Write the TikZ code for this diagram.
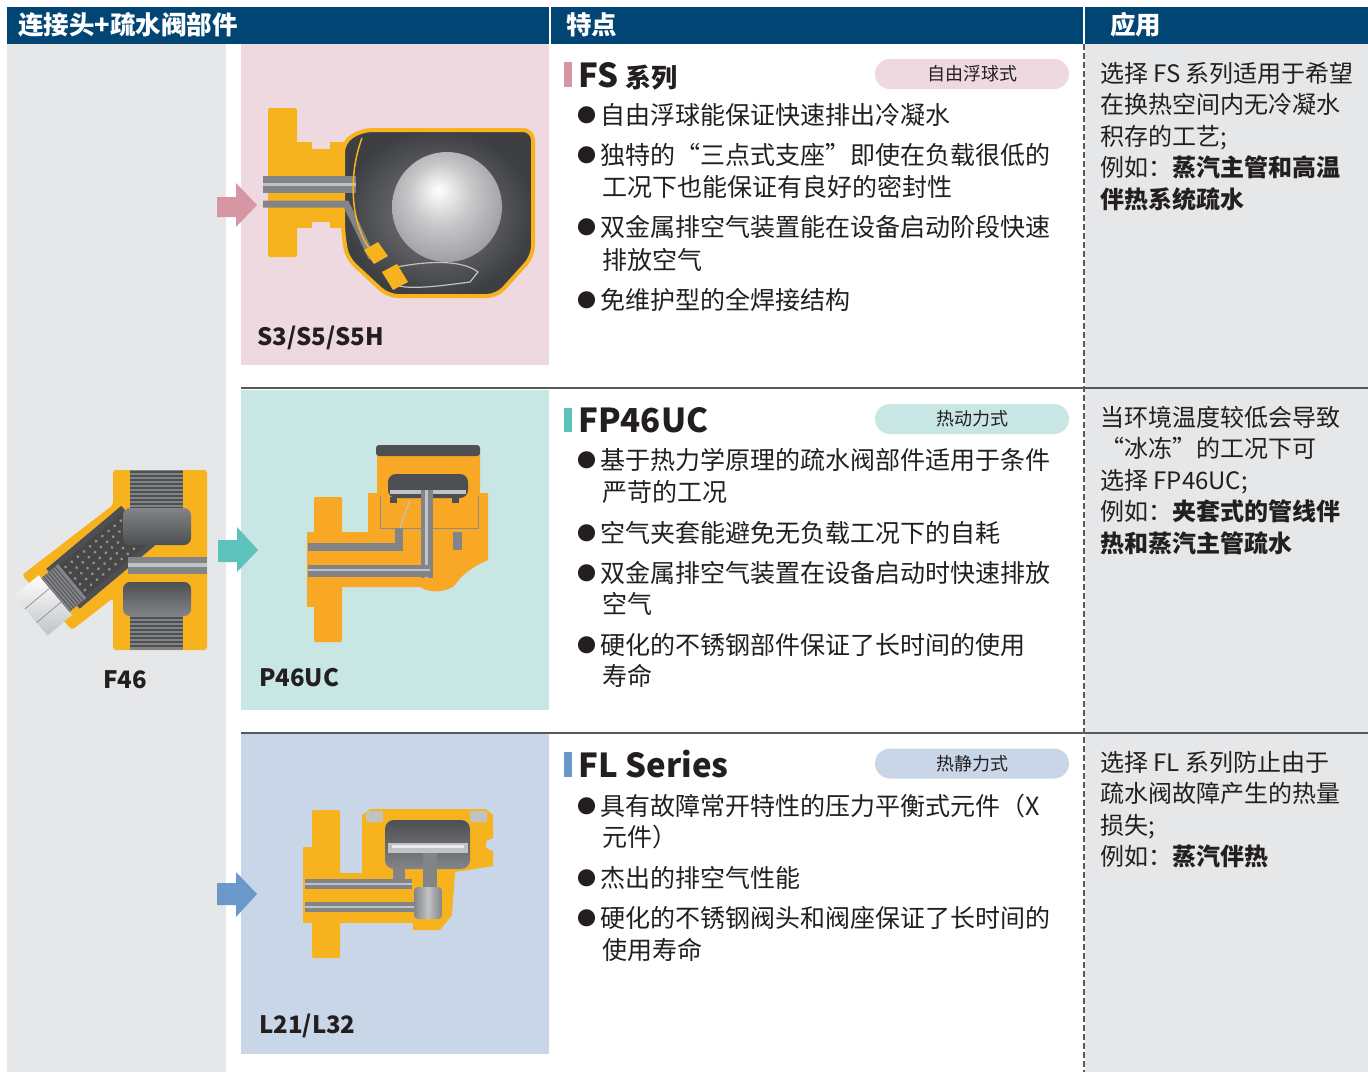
\documentclass[tikz,border=0pt]{standalone}
\usepackage{fontspec}
\setmainfont{Noto Sans CJK SC}
\definecolor{hdr}{RGB}{0,69,115}
\definecolor{graybg}{RGB}{230,231,232}
\definecolor{pinkbg}{RGB}{238,217,224}
\definecolor{tealbg}{RGB}{200,230,228}
\definecolor{bluebg}{RGB}{201,214,232}
\definecolor{pinkac}{RGB}{215,150,163}
\definecolor{tealac}{RGB}{92,194,186}
\definecolor{blueac}{RGB}{106,152,201}
\definecolor{txt}{RGB}{35,31,32}
\definecolor{sep}{RGB}{88,89,91}
\definecolor{yel}{RGB}{246,179,30}
\definecolor{org}{RGB}{248,168,36}
\definecolor{dgray}{RGB}{78,79,82}
\definecolor{mgray}{RGB}{130,132,135}
\definecolor{lgray}{RGB}{192,194,196}
\definecolor{ballmid}{RGB}{200,200,202}
\definecolor{balledge}{RGB}{128,128,130}
\pgfdeclareradialshading{myball}{\pgfpoint{-4bp}{8bp}}{color(0bp)=(white); color(14bp)=(ballmid); color(40bp)=(balledge); color(50bp)=(balledge)}
\newcommand\mybul{\raisebox{2pt}{\fontsize{19}{19}\selectfont ●}\hspace{4pt}}
\begin{document}
\begin{tikzpicture}[x=1pt,y=-1pt,
  hdrtext/.style={text=white,font=\fontsize{25.5}{25.5}\selectfont\bfseries,anchor=base west,inner sep=0},
  body/.style={text=txt,font=\fontsize{25}{25}\selectfont,anchor=base west,inner sep=0},
  apptext/.style={text=txt,font=\fontsize{24}{24}\selectfont,anchor=base west,inner sep=0},
  ttl/.style={text=txt,font=\fontsize{33}{33}\selectfont\bfseries,anchor=base west,inner sep=0},
  pill/.style={minimum width=194pt,minimum height=30pt,rounded corners=15pt,inner sep=0,text=txt,font=\fontsize{18}{18}\selectfont},
  lbl/.style={text=txt,font=\fontsize{24}{24}\selectfont\bfseries,anchor=base west,inner sep=0},
  sepline/.style={draw=sep,line width=1.6pt},
  dashsep/.style={draw=sep,line width=1.2pt,dash pattern=on 6pt off 3pt},
]
\useasboundingbox (0,0) rectangle (1368,1072);
\fill[white] (0,0) rectangle (1368,1072);
% header
\fill[hdr] (7,7) rectangle (1368,44);
\fill[white] (549,7) rectangle (551,44);
\fill[white] (1083,7) rectangle (1085,44);
\node[hdrtext] (h1) at (18,34.5) {连接头+疏水阀部件};
\node[hdrtext] (h2) at (566,34.5) {特点};
\node[hdrtext] (h3) at (1110,34.5) {应用};
% columns
\fill[graybg] (7,44) rectangle (226,1072);
\fill[graybg] (1085,44) rectangle (1368,1072);
\fill[pinkbg] (241,44) rectangle (549,365);
\fill[tealbg] (241,390) rectangle (549,710);
\fill[bluebg] (241,734) rectangle (549,1054);
\draw[sepline] (241,388) -- (1368,388);
\draw[sepline] (241,733) -- (1368,733);
\draw[dashsep] (1084,44) -- (1084,1072);

% ---------- F46 ----------
\fill[yel,rounded corners=3] (113,470) -- (207,470) -- (207,650) -- (113,650) -- (113,598) -- (72,630) -- (22,575) -- (113,505) -- cycle;
\begin{scope}[shift={(40,608)},rotate=40]
  \fill[dgray] (30,-26) rectangle (128,26);
  \fill[black!72] (40,-20) rectangle (124,20);
  \foreach \t in {46,54,...,118} \foreach \w in {-15,-7.5,...,15} \fill[gray!85] (\t,\w) circle (1.6);
  \fill[mgray] (18,-22) rectangle (42,22);
  \foreach \t in {20,23,...,40} \draw[dgray,line width=0.8] (\t,-22) -- (\t,22);
  \shade[top color=white, bottom color=lgray] (-12,-26) rectangle (20,26);
  \draw[mgray,line width=0.6] (-12,-9) -- (20,-9) (-12,9) -- (20,9);
\end{scope}
\fill[mgray] (130,470) rectangle (183,512);
\foreach \yy in {472,476,...,508} \draw[dgray,line width=1.2] (130,\yy) -- (183,\yy);
\fill[mgray] (130,612) rectangle (183,650);
\foreach \yy in {614,618,...,648} \draw[dgray,line width=1.2] (130,\yy) -- (183,\yy);
\shade[top color=mgray, bottom color=dgray, rounded corners=7] (123,508) rectangle (191,545);
\shade[top color=dgray, bottom color=mgray, rounded corners=7] (123,582) rectangle (191,616);
\fill[mgray] (128,557) rectangle (207,574);
\fill[lgray] (128,563) rectangle (207,567);
\node[lbl] (lf46) at (103,688) {F46};

% ---------- S3 ----------
\fill[yel,rounded corners=2] (268,108) rectangle (297,257);
\fill[yel] (292,142) rectangle (356,228);
\fill[pinkbg] (312,142) rectangle (330,149);
\fill[pinkbg] (312,222) rectangle (330,228);
\path[draw=yel,line width=4,inner color={rgb,255:red,128;green,129;blue,131},outer color={rgb,255:red,62;green,63;blue,66},rounded corners=10] (343,142) -- (362,130) -- (533,130) -- (533,256) -- (497,296) -- (388,296) -- (347,258) -- (343,232) -- cycle;
\fill[mgray] (263,176) rectangle (356,193);
\fill[lgray] (263,183) rectangle (356,186);
\draw[mgray,line width=7] (263,204) -- (346,204) -- (357,226) -- (372,258);
\draw[yel,line width=1.5] (362,138) .. controls (348,175) and (350,225) .. (372,252);
\shade[shading=myball] (447,207) circle (55);
\draw[lgray,line width=1.2] (392,268) .. controls (420,262) and (460,258) .. (478,272) -- (470,282) .. controls (440,286) and (410,290) .. (395,285);
\fill[yel] (364,250) -- (378,242) -- (388,256) -- (374,264) -- cycle;
\fill[yel] (382,272) -- (397,264) -- (408,282) -- (393,290) -- cycle;
\node[lbl] (ls3) at (257,345) {S3/S5/S5H};

% ---------- P46UC ----------
\fill[org,rounded corners=2] (314,497) rectangle (342,642);
\fill[org] (307,532) rectangle (342,607);
\fill[org] (340,532) -- (368,532) -- (368,493) -- (377,493) -- (377,452) -- (480,452) -- (480,493) -- (488,493) -- (488,560) .. controls (470,568) and (462,575) .. (455,585) .. controls (448,592) and (430,594) .. (420,587) -- (340,587) -- cycle;
\fill[dgray,rounded corners=3] (376,445) rectangle (480,456);
\draw[black!45,line width=0.8] (380,496) -- (380,528) -- (478,528) -- (478,496);
\fill[dgray,rounded corners=8] (388,474) rectangle (468,498);
\fill[lgray] (390,490) rectangle (466,494);
\fill[dgray] (390,497) rectangle (397,503);
\fill[dgray] (452,497) rectangle (459,503);
\fill[mgray] (421,490) rectangle (433,578);
\fill[lgray] (425,490) rectangle (428,578);
\fill[mgray] (308,543) rectangle (402,551);
\fill[mgray] (395,528) rectangle (403,551);
\fill[mgray] (308,565) rectangle (433,577);
\fill[lgray] (308,569) rectangle (430,571);
\draw[lgray,line width=1.2] (400,528) -- (410,500);
\fill[mgray] (453,532) rectangle (462,550);
\node[lbl] (lp46) at (259,686) {P46UC};

% ---------- L21 ----------
\fill[yel,rounded corners=2] (312,810) rectangle (340,958);
\fill[yel] (303,847) rectangle (340,923);
\fill[yel] (338,873) -- (362,873) -- (362,815) -- (370,809) -- (486,809) -- (493,815) -- (493,838) -- (486,841) -- (486,848) -- (493,851) -- (493,866) -- (455,872) -- (452,915) -- (440,930) -- (413,930) -- (413,923) -- (338,923) -- cycle;
\fill[lgray,rounded corners=2] (366,811) rectangle (383,822);
\fill[lgray,rounded corners=2] (470,811) rectangle (487,822);
\shade[top color=dgray, bottom color=mgray, rounded corners=9] (385,820) rectangle (470,869);
\fill[lgray] (388,843) rectangle (468,853);
\fill[white!85!gray] (392,845) rectangle (464,848);
\fill[mgray] (423,853) rectangle (437,893);
\shade[left color=mgray, right color=mgray, middle color=lgray, rounded corners=4] (414,887) rectangle (442,919);
\fill[mgray] (305,879) rectangle (412,889);
\fill[lgray] (305,883) rectangle (412,885);
\fill[mgray] (305,902) rectangle (414,912);
\fill[lgray] (305,906) rectangle (414,908);
\fill[mgray] (393,869) rectangle (405,881);
\node[lbl] (ll21) at (259,1033) {L21/L32};

% ---------- arrows ----------
\fill[pinkac] (217,197) -- (236,197) -- (236,183) -- (257,205) -- (236,227) -- (236,217) -- (217,217) -- cycle;
\fill[tealac] (218,540) -- (237,540) -- (237,527) -- (258,550) -- (237,572) -- (237,562) -- (218,562) -- cycle;
\fill[blueac] (217,883) -- (236,883) -- (236,872) -- (257,894) -- (236,917) -- (236,905) -- (217,905) -- cycle;

% ---------- row 1 text ----------
\fill[pinkac] (564,62) rectangle (572,87);
\node[ttl] (t1) at (578,87) {FS\hspace{7pt}{\fontsize{26}{26}\selectfont 系列}};
\node[pill,fill=pinkbg] (p1) at (972,74) {自由浮球式};
\node[body] (a1) at (577,124.5) {\mybul 自由浮球能保证快速排出冷凝水};
\node[body] (a2) at (577,164.5) {\mybul 独特的“三点式支座”即使在负载很低的};
\node[body] (a3) at (602,196.5) {工况下也能保证有良好的密封性};
\node[body] (a4) at (577,236.5) {\mybul 双金属排空气装置能在设备启动阶段快速};
\node[body] (a5) at (602,269.5) {排放空气};
\node[body] (a6) at (577,309.5) {\mybul 免维护型的全焊接结构};
\node[apptext] (r1) at (1100,82) {选择 FS 系列适用于希望};
\node[apptext] (r2) at (1100,113.5) {在换热空间内无冷凝水};
\node[apptext] (r3) at (1100,145) {积存的工艺;};
\node[apptext] (r4) at (1100,176.5) {例如：\textbf{蒸汽主管和高温}};
\node[apptext] (r5) at (1100,208) {\textbf{伴热系统疏水}};

% ---------- row 2 text ----------
\fill[tealac] (564,408) rectangle (572,432);
\node[ttl] (t2) at (578,432) {FP46UC};
\node[pill,fill=tealbg] (p2) at (972,419) {热动力式};
\node[body] (b1) at (577,469.5) {\mybul 基于热力学原理的疏水阀部件适用于条件};
\node[body] (b2) at (602,501.5) {严苛的工况};
\node[body] (b3) at (577,542.5) {\mybul 空气夹套能避免无负载工况下的自耗};
\node[body] (b4) at (577,582.5) {\mybul 双金属排空气装置在设备启动时快速排放};
\node[body] (b5) at (602,613.5) {空气};
\node[body] (b6) at (577,654.5) {\mybul 硬化的不锈钢部件保证了长时间的使用};
\node[body] (b7) at (602,685.5) {寿命};
\node[apptext] (s1) at (1100,426) {当环境温度较低会导致};
\node[apptext] (s2) at (1100,457.5) {“冰冻”的工况下可};
\node[apptext] (s3) at (1100,489) {选择 FP46UC;};
\node[apptext] (s4) at (1100,520.5) {例如：\textbf{夹套式的管线伴}};
\node[apptext] (s5) at (1100,552) {\textbf{热和蒸汽主管疏水}};

% ---------- row 3 text ----------
\fill[blueac] (564,752) rectangle (572,777);
\node[ttl] (t3) at (578,777) {FL Series};
\node[pill,fill=bluebg] (p3) at (972,763.5) {热静力式};
\node[body] (c1) at (577,815.5) {\mybul 具有故障常开特性的压力平衡式元件（X};
\node[body] (c2) at (602,846.5) {元件）};
\node[body] (c3) at (577,887.5) {\mybul 杰出的排空气性能};
\node[body] (c4) at (577,927.5) {\mybul 硬化的不锈钢阀头和阀座保证了长时间的};
\node[body] (c5) at (602,959.5) {使用寿命};
\node[apptext] (u1) at (1100,771) {选择 FL 系列防止由于};
\node[apptext] (u2) at (1100,802.5) {疏水阀故障产生的热量};
\node[apptext] (u3) at (1100,834) {损失;};
\node[apptext] (u4) at (1100,865.5) {例如：\textbf{蒸汽伴热}};
\end{tikzpicture}
\end{document}
